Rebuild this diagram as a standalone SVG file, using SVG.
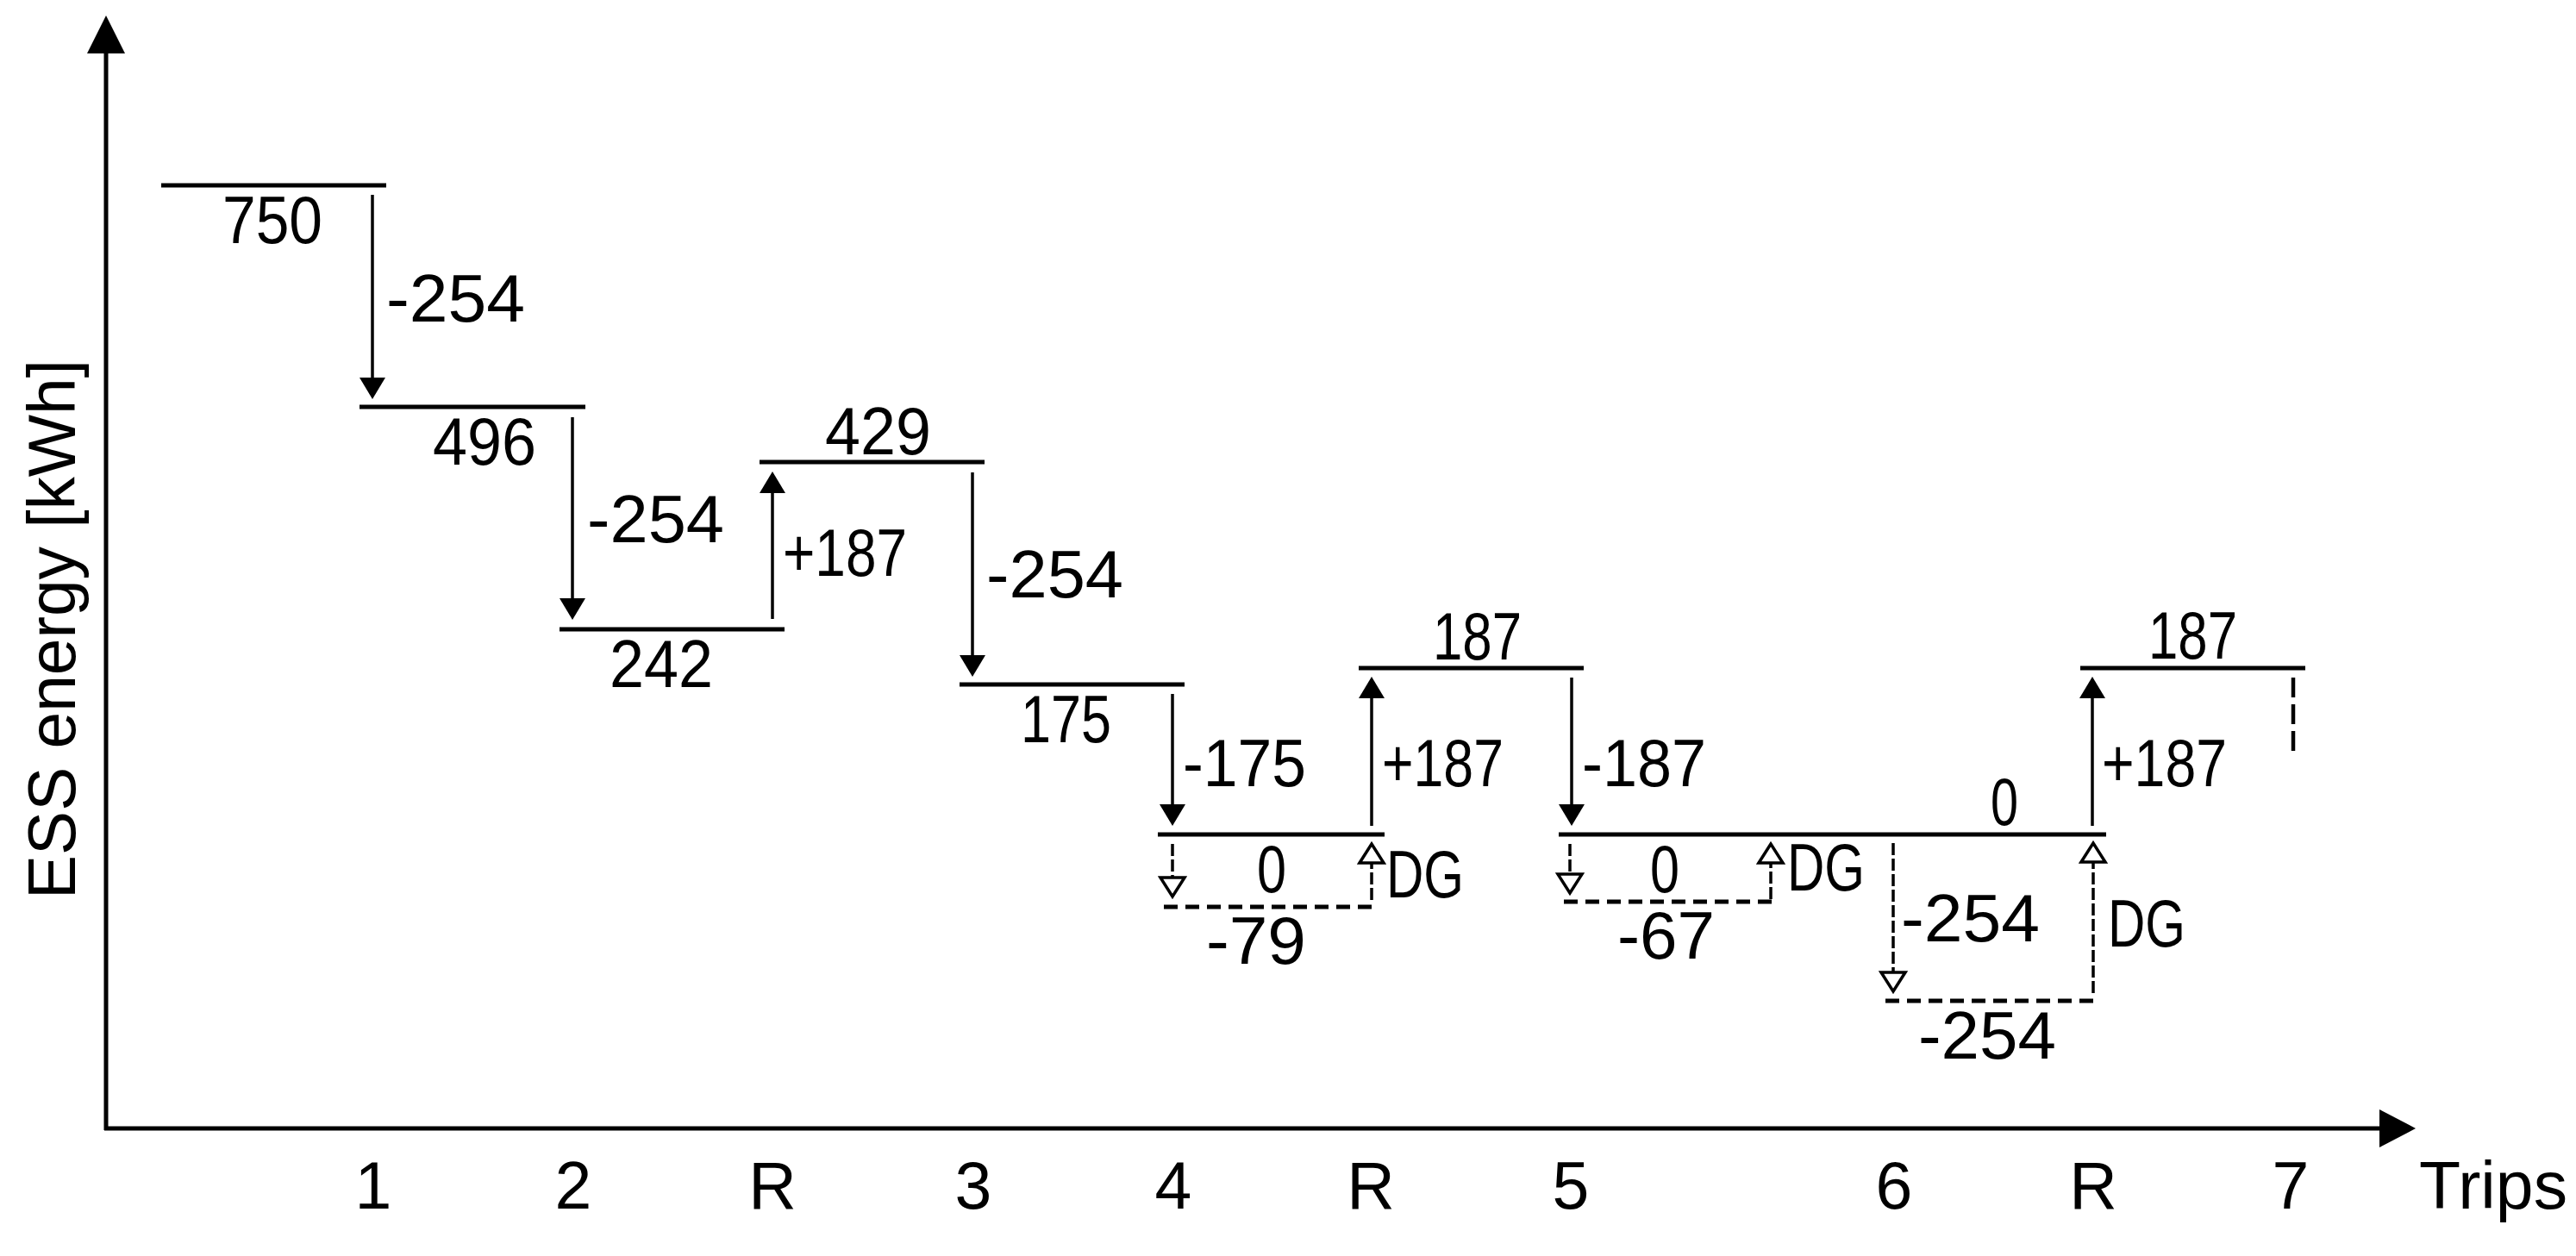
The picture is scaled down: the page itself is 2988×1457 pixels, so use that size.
<svg xmlns="http://www.w3.org/2000/svg" width="2988" height="1457" viewBox="0 0 2988 1457">
<style>
text{font-family:"Liberation Sans",Arial,sans-serif;font-size:77px;fill:#000}
.lv{stroke:#000;stroke-width:5;fill:none}
.ax{stroke:#000;stroke-width:5;fill:none}
.ar{stroke:#000;stroke-width:3.5;fill:none;marker-end:url(#fh)}
.da{stroke:#000;stroke-width:3.5;fill:none;stroke-dasharray:14 4;marker-end:url(#oh)}
.dl{stroke:#000;stroke-width:5;fill:none;stroke-dasharray:16 9}
.m{text-anchor:middle}
</style>
<defs>
<marker id="fh" markerUnits="userSpaceOnUse" viewBox="0 -15 25 30" refX="15" refY="0" markerWidth="25" markerHeight="30" orient="auto" overflow="visible">
<path d="M0,-15 L25,0 L0,15 Z" fill="#000"/>
</marker>
<marker id="oh" markerUnits="userSpaceOnUse" viewBox="-3 -18 28 36" refX="0" refY="0" markerWidth="28" markerHeight="36" orient="auto" overflow="visible">
<path d="M0,-14 L22,0 L0,14 Z" fill="#fff" stroke="#000" stroke-width="3.5" stroke-dasharray="none" stroke-linejoin="miter"/>
</marker>
</defs>
<rect width="2988" height="1457" fill="#fff"/>
<g id="axes">
<line class="ax" x1="123" y1="1311" x2="123" y2="60"/>
<polygon points="123,18 101,62 145,62" fill="#000"/>
<line class="ax" x1="121" y1="1309" x2="2762" y2="1309"/>
<polygon points="2802,1309 2760,1287 2760,1331" fill="#000"/>
<text transform="translate(87,730) rotate(-90)" x="-313" y="0" textLength="626" lengthAdjust="spacingAndGlyphs">ESS energy [kWh]</text>
<text x="2806" y="1402" textLength="172" lengthAdjust="spacingAndGlyphs">Trips</text>
<g id="ticks">
<text x="433" y="1402" class="m">1</text>
<text x="665" y="1402" class="m">2</text>
<text x="896" y="1402" class="m">R</text>
<text x="1129" y="1402" class="m">3</text>
<text x="1361" y="1402" class="m">4</text>
<text x="1590" y="1402" class="m">R</text>
<text x="1822" y="1402" class="m">5</text>
<text x="2197" y="1402" class="m">6</text>
<text x="2428" y="1402" class="m">R</text>
<text x="2657" y="1402" class="m">7</text>
</g>
</g>
<g id="level-750"><line class="lv" x1="187" y1="215" x2="448" y2="215"/><text x="258" y="282" textLength="116" lengthAdjust="spacingAndGlyphs">750</text></g>
<g id="level-496"><line class="lv" x1="417" y1="472" x2="679" y2="472"/><text x="502" y="539" textLength="120" lengthAdjust="spacingAndGlyphs">496</text></g>
<g id="level-242"><line class="lv" x1="649" y1="730" x2="910" y2="730"/><text x="707" y="797" textLength="120" lengthAdjust="spacingAndGlyphs">242</text></g>
<g id="level-429"><line class="lv" x1="881" y1="536" x2="1142" y2="536"/><text x="957" y="527" textLength="123" lengthAdjust="spacingAndGlyphs">429</text></g>
<g id="level-175"><line class="lv" x1="1113" y1="794" x2="1374" y2="794"/><text x="1184" y="861" textLength="105" lengthAdjust="spacingAndGlyphs">175</text></g>
<g id="level-0a"><line class="lv" x1="1343" y1="968" x2="1606" y2="968"/><text x="1458" y="1035" textLength="34" lengthAdjust="spacingAndGlyphs">0</text></g>
<g id="level-79"><line class="dl" x1="1350" y1="1052" x2="1599" y2="1052"/><text x="1399" y="1118" textLength="116" lengthAdjust="spacingAndGlyphs">-79</text></g>
<g id="level-187a"><line class="lv" x1="1576" y1="775" x2="1837" y2="775"/><text x="1662" y="765" textLength="103" lengthAdjust="spacingAndGlyphs">187</text></g>
<g id="level-0b"><line class="lv" x1="1808" y1="968" x2="2443" y2="968"/><text x="1914" y="1035" textLength="34" lengthAdjust="spacingAndGlyphs">0</text><text x="2309" y="957" textLength="32" lengthAdjust="spacingAndGlyphs">0</text></g>
<g id="level-67"><line class="dl" x1="1814" y1="1046" x2="2063" y2="1046"/><text x="1876" y="1112" textLength="113" lengthAdjust="spacingAndGlyphs">-67</text></g>
<g id="level-254"><line class="dl" x1="2187" y1="1161" x2="2437" y2="1161"/><text x="2225" y="1228" textLength="160" lengthAdjust="spacingAndGlyphs">-254</text></g>
<g id="level-187b"><line class="lv" x1="2413" y1="775" x2="2674" y2="775"/><text x="2492" y="764" textLength="103" lengthAdjust="spacingAndGlyphs">187</text><line x1="2660" y1="786" x2="2660" y2="874" stroke="#000" stroke-width="4.5" stroke-dasharray="23 8"/></g>
<g id="connectors">
<line class="ar" x1="432" y1="226" x2="432" y2="453"/>
<line class="ar" x1="664" y1="484" x2="664" y2="709"/>
<line class="ar" x1="896" y1="718" x2="896" y2="557"/>
<line class="ar" x1="1128" y1="548" x2="1128" y2="775"/>
<line class="ar" x1="1360" y1="805" x2="1360" y2="948"/>
<line class="ar" x1="1591" y1="958" x2="1591" y2="795"/>
<line class="ar" x1="1823" y1="786" x2="1823" y2="948"/>
<line class="ar" x1="2427" y1="958" x2="2427" y2="795"/>
<line class="da" x1="1360" y1="979" x2="1360" y2="1018"/>
<line class="da" x1="1591" y1="1044" x2="1591" y2="1001"/>
<line class="da" x1="1821" y1="979" x2="1821" y2="1014"/>
<line class="da" x1="2054" y1="1043" x2="2054" y2="1001"/>
<line class="da" x1="2196" y1="978" x2="2196" y2="1128"/>
<line class="da" x1="2428" y1="1152" x2="2428" y2="1000"/>
</g>
<g id="labels">
<text x="448" y="373" textLength="161" lengthAdjust="spacingAndGlyphs">-254</text>
<text x="681" y="629" textLength="159" lengthAdjust="spacingAndGlyphs">-254</text>
<text x="908" y="668" textLength="144" lengthAdjust="spacingAndGlyphs">+187</text>
<text x="1144" y="693" textLength="159" lengthAdjust="spacingAndGlyphs">-254</text>
<text x="1372" y="912" textLength="143" lengthAdjust="spacingAndGlyphs">-175</text>
<text x="1603" y="912" textLength="141" lengthAdjust="spacingAndGlyphs">+187</text>
<text x="1835" y="912" textLength="144" lengthAdjust="spacingAndGlyphs">-187</text>
<text x="2438" y="912" textLength="145" lengthAdjust="spacingAndGlyphs">+187</text>
<text x="2205" y="1092" textLength="161" lengthAdjust="spacingAndGlyphs">-254</text>
<text x="1608" y="1041" textLength="90" lengthAdjust="spacingAndGlyphs">DG</text>
<text x="2073" y="1033" textLength="90" lengthAdjust="spacingAndGlyphs">DG</text>
<text x="2445" y="1098" textLength="90" lengthAdjust="spacingAndGlyphs">DG</text>
</g>
</svg>
